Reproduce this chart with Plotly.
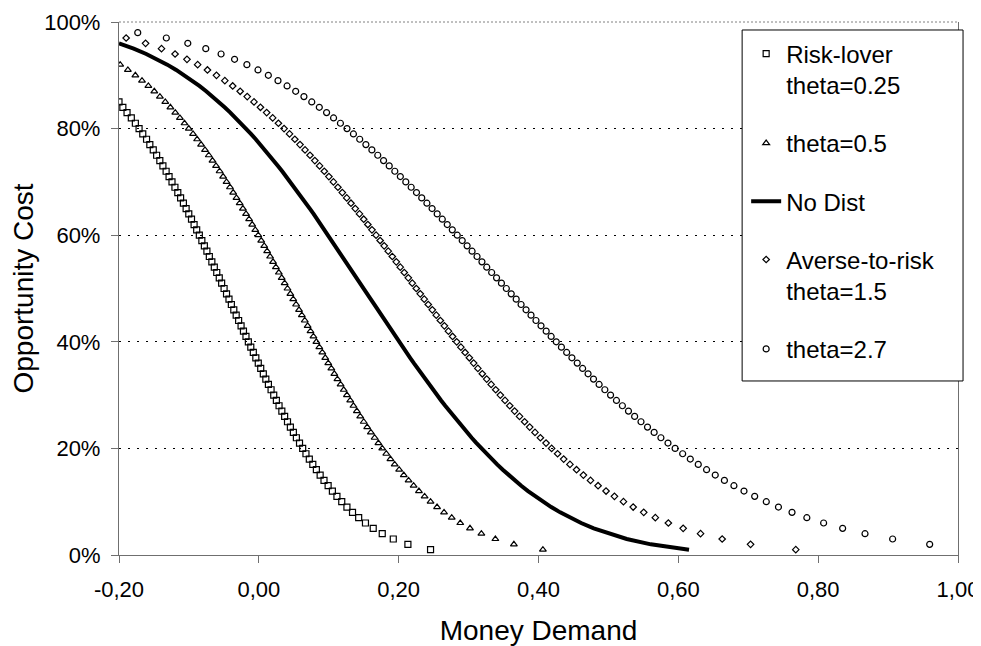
import plotly.graph_objects as go

# Opportunity cost levels (%), shared by every series
opp_cost_pct = [1, 2, 3, 4, 5, 6, 7, 8, 9, 10,
                11, 12, 13, 14, 15, 16, 17, 18, 19, 20,
                21, 22, 23, 24, 25, 26, 27, 28, 29, 30,
                31, 32, 33, 34, 35, 36, 37, 38, 39, 40,
                41, 42, 43, 44, 45, 46, 47, 48, 49, 50,
                51, 52, 53, 54, 55, 56, 57, 58, 59, 60,
                61, 62, 63, 64, 65, 66, 67, 68, 69, 70,
                71, 72, 73, 74, 75, 76, 77, 78, 79, 80,
                81, 82, 83, 84, 85, 86, 87, 88, 89, 90,
                91, 92, 93, 94, 95, 96, 97, 98]

# Money demand read for each series (one value per opportunity-cost level)
md_risk_lover_025 = [0.2456, 0.2132, 0.1923, 0.1765, 0.1636, 0.1525, 0.1428, 0.1340, 0.1260, 0.1186,
                     0.1117, 0.1052, 0.0991, 0.0932, 0.0877, 0.0823, 0.0772, 0.0722, 0.0674, 0.0627,
                     0.0582, 0.0537, 0.0494, 0.0451, 0.0410, 0.0369, 0.0329, 0.0289, 0.0251, 0.0213,
                     0.0175, 0.0137, 0.0100, 0.0064, 0.0027, -0.0008, -0.0043, -0.0079, -0.0115, -0.0150,
                     -0.0184, -0.0220, -0.0254, -0.0289, -0.0324, -0.0358, -0.0393, -0.0427, -0.0462, -0.0497,
                     -0.0532, -0.0566, -0.0602, -0.0637, -0.0672, -0.0708, -0.0743, -0.0779, -0.0815, -0.0851,
                     -0.0889, -0.0926, -0.0963, -0.1002, -0.1040, -0.1079, -0.1119, -0.1159, -0.1200, -0.1242,
                     -0.1284, -0.1326, -0.1372, -0.1416, -0.1462, -0.1510, -0.1559, -0.1606, -0.1660, -0.1713,
                     -0.1766, -0.1824, -0.1885, -0.1945, -0.2000]

md_theta_05 = [0.4063, 0.3648, 0.3383, 0.3183, 0.3020, 0.2881, 0.2759, 0.2649, 0.2549, 0.2456,
               0.2371, 0.2290, 0.2214, 0.2142, 0.2073, 0.2007, 0.1943, 0.1882, 0.1823, 0.1765,
               0.1710, 0.1656, 0.1602, 0.1550, 0.1500, 0.1450, 0.1402, 0.1353, 0.1307, 0.1260,
               0.1214, 0.1169, 0.1124, 0.1080, 0.1037, 0.0993, 0.0950, 0.0908, 0.0865, 0.0823,
               0.0781, 0.0739, 0.0698, 0.0657, 0.0615, 0.0575, 0.0533, 0.0492, 0.0451, 0.0410,
               0.0369, 0.0327, 0.0286, 0.0244, 0.0203, 0.0161, 0.0119, 0.0077, 0.0034, -0.0008,
               -0.0051, -0.0095, -0.0139, -0.0183, -0.0228, -0.0274, -0.0320, -0.0367, -0.0413, -0.0462,
               -0.0511, -0.0561, -0.0612, -0.0663, -0.0716, -0.0770, -0.0826, -0.0883, -0.0941, -0.1002,
               -0.1063, -0.1129, -0.1195, -0.1265, -0.1338, -0.1415, -0.1495, -0.1580, -0.1671, -0.1766,
               -0.1873, -0.1983]

md_no_dist = [0.6153, 0.5607, 0.5262, 0.5001, 0.4790, 0.4610, 0.4452, 0.4310, 0.4182, 0.4063,
              0.3953, 0.3850, 0.3753, 0.3661, 0.3573, 0.3489, 0.3408, 0.3331, 0.3256, 0.3183,
              0.3113, 0.3044, 0.2978, 0.2913, 0.2849, 0.2787, 0.2726, 0.2666, 0.2607, 0.2549,
              0.2492, 0.2435, 0.2380, 0.2325, 0.2271, 0.2217, 0.2164, 0.2111, 0.2059, 0.2007,
              0.1955, 0.1904, 0.1853, 0.1802, 0.1751, 0.1701, 0.1651, 0.1600, 0.1550, 0.1500,
              0.1450, 0.1400, 0.1349, 0.1299, 0.1249, 0.1198, 0.1147, 0.1096, 0.1045, 0.0993,
              0.0941, 0.0889, 0.0836, 0.0783, 0.0729, 0.0675, 0.0620, 0.0565, 0.0508, 0.0451,
              0.0393, 0.0334, 0.0274, 0.0213, 0.0151, 0.0087, 0.0022, -0.0044, -0.0113, -0.0183,
              -0.0256, -0.0331, -0.0408, -0.0489, -0.0573, -0.0661, -0.0753, -0.0850, -0.0953, -0.1063,
              -0.1182, -0.1310, -0.1452, -0.1610, -0.1790, -0.2001]

md_averse_15 = [0.7680, 0.7033, 0.6627, 0.6318, 0.6069, 0.5857, 0.5671, 0.5505, 0.5354, 0.5215,
                0.5086, 0.4966, 0.4852, 0.4744, 0.4642, 0.4544, 0.4450, 0.4360, 0.4273, 0.4188,
                0.4108, 0.4027, 0.3950, 0.3874, 0.3801, 0.3729, 0.3658, 0.3589, 0.3521, 0.3454,
                0.3388, 0.3323, 0.3259, 0.3196, 0.3133, 0.3072, 0.3011, 0.2950, 0.2890, 0.2830,
                0.2771, 0.2712, 0.2654, 0.2596, 0.2538, 0.2481, 0.2423, 0.2366, 0.2309, 0.2252,
                0.2195, 0.2138, 0.2080, 0.2023, 0.1966, 0.1909, 0.1851, 0.1793, 0.1735, 0.1677,
                0.1618, 0.1559, 0.1500, 0.1440, 0.1379, 0.1318, 0.1257, 0.1194, 0.1131, 0.1067,
                0.1002, 0.0936, 0.0869, 0.0801, 0.0732, 0.0661, 0.0589, 0.0515, 0.0439, 0.0361,
                0.0280, 0.0198, 0.0112, 0.0023, -0.0069, -0.0166, -0.0267, -0.0374, -0.0486, -0.0606,
                -0.0735, -0.0875, -0.1028, -0.1198, -0.1392, -0.1620, -0.1898]

# theta = 2.7 starts at 2 % (the 1 % point lies beyond the axis)
md_theta_27 = [0.9595, 0.9065, 0.8670, 0.8350, 0.8078, 0.7838, 0.7626, 0.7432, 0.7258,
               0.7092, 0.6939, 0.6795, 0.6659, 0.6528, 0.6404, 0.6285, 0.6171, 0.6062, 0.5954,
               0.5852, 0.5751, 0.5654, 0.5559, 0.5466, 0.5375, 0.5287, 0.5200, 0.5115, 0.5031,
               0.4949, 0.4867, 0.4787, 0.4709, 0.4631, 0.4554, 0.4478, 0.4403, 0.4328, 0.4254,
               0.4181, 0.4110, 0.4036, 0.3964, 0.3893, 0.3822, 0.3751, 0.3681, 0.3610, 0.3540,
               0.3470, 0.3400, 0.3330, 0.3260, 0.3191, 0.3121, 0.3050, 0.2979, 0.2909, 0.2838,
               0.2767, 0.2695, 0.2624, 0.2551, 0.2478, 0.2404, 0.2330, 0.2255, 0.2179, 0.2102,
               0.2024, 0.1945, 0.1865, 0.1784, 0.1701, 0.1617, 0.1531, 0.1443, 0.1353, 0.1261,
               0.1167, 0.1069, 0.0969, 0.0865, 0.0757, 0.0645, 0.0527, 0.0404, 0.0274, 0.0136,
               -0.0012, -0.0171, -0.0347, -0.0540, -0.0759, -0.1016, -0.1323, -0.1732]

x_tick_vals = [-0.2, 0.0, 0.2, 0.4, 0.6, 0.8, 1.0]
x_tick_text = ["-0,20", "0,00", "0,20", "0,40", "0,60", "0,80", "1,00"]
y_tick_vals = [0, 20, 40, 60, 80, 100]
y_tick_text = ["0%", "20%", "40%", "60%", "80%", "100%"]

FONT = "Liberation Sans, Arial, Helvetica, sans-serif"
AXIS_GRAY = "#6f6f6f"

fig = go.Figure()

fig.add_trace(go.Scatter(
    x=md_risk_lover_025, y=opp_cost_pct[:len(md_risk_lover_025)],
    mode="markers", name="Risk-lover<br>theta=0.25", legendgroup="a",
    marker=dict(symbol="square-open", size=6, color="black", line=dict(width=1.2, color="black"))))

fig.add_trace(go.Scatter(
    x=md_theta_05, y=opp_cost_pct[:len(md_theta_05)],
    mode="markers", name="theta=0.5", legendgroup="b",
    marker=dict(symbol="triangle-up-open", size=6, color="black", line=dict(width=1.2, color="black"))))

fig.add_trace(go.Scatter(
    x=md_no_dist, y=opp_cost_pct[:len(md_no_dist)],
    mode="lines", name="No Dist", legendgroup="c",
    line=dict(color="black", width=4)))

fig.add_trace(go.Scatter(
    x=md_averse_15, y=opp_cost_pct[:len(md_averse_15)],
    mode="markers", name="Averse-to-risk<br>theta=1.5", legendgroup="d",
    marker=dict(symbol="diamond-open", size=5, color="black", line=dict(width=1.2, color="black"))))

fig.add_trace(go.Scatter(
    x=md_theta_27, y=opp_cost_pct[1:1 + len(md_theta_27)],
    mode="markers", name="theta=2.7", legendgroup="e",
    marker=dict(symbol="circle-open", size=6, color="black", line=dict(width=1.2, color="black"))))

# The page body adds an 8 px offset, so the figure is 8 px smaller and margins compensate.
fig.update_layout(
    width=973, height=638,
    margin=dict(l=110.5, r=23, t=14, b=91, autoexpand=False),
    paper_bgcolor="white", plot_bgcolor="white",
    font=dict(family=FONT, size=22, color="black"),
    showlegend=True,
    legend=dict(
        x=0.7475, xanchor="left", y=0.982, yanchor="top",
        bgcolor="rgba(0,0,0,0)", borderwidth=0,
        font=dict(family=FONT, size=24, color="black"),
        tracegroupgap=24, traceorder="grouped", valign="top",
        itemwidth=30,
    ),
    shapes=[
        # legend frame (white box hiding the grid behind it)
        dict(type="rect", xref="paper", yref="paper",
             x0=0.7427, x1=1.0060, y0=0.3265, y1=0.985,
             line=dict(color="black", width=1), fillcolor="white", layer="above"),
        # top border of the plot area
        dict(type="line", xref="paper", yref="paper", x0=0, x1=1, y0=1, y1=1,
             line=dict(color="#808080", width=1, dash="2px,2px"), layer="below"),
    ],
)

fig.update_xaxes(
    range=[-0.2, 1.0], autorange=False,
    tickvals=x_tick_vals, ticktext=x_tick_text,
    tickfont=dict(family=FONT, size=22, color="black"),
    showline=True, linecolor=AXIS_GRAY, linewidth=1.3,
    ticks="outside", ticklen=7, tickwidth=1.3, tickcolor=AXIS_GRAY,
    ticklabelstandoff=7,
    showgrid=False, zeroline=False, automargin=False,
    title=dict(text="Money Demand", font=dict(family=FONT, size=28, color="black"), standoff=21),
)

fig.update_yaxes(
    range=[0, 100], autorange=False,
    tickvals=y_tick_vals, ticktext=y_tick_text,
    tickfont=dict(family=FONT, size=22, color="black"),
    showline=True, linecolor=AXIS_GRAY, linewidth=1.3, mirror=True,
    ticks="outside", ticklen=7, tickwidth=1.3, tickcolor=AXIS_GRAY,
    ticklabelstandoff=6,
    showgrid=True, gridcolor="black", gridwidth=1, griddash="2px,7px",
    zeroline=False, automargin=False,
    title=dict(text="Opportunity Cost", font=dict(family=FONT, size=28, color="black"), standoff=2),
)

fig.write_html("out.html")
